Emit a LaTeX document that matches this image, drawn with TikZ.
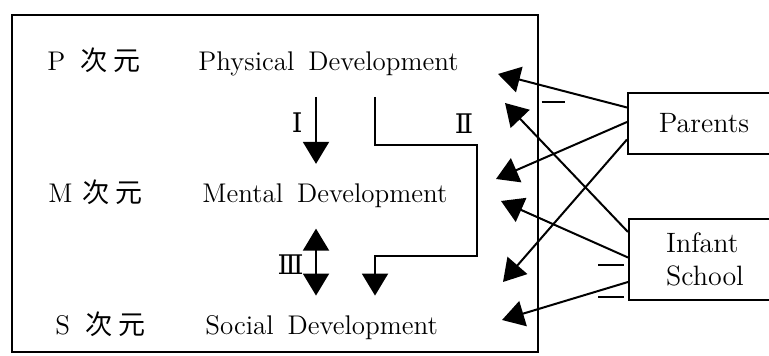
\documentclass[tikz,border=0pt]{standalone}
\usepackage{fontspec}
\newfontfamily\cjk{Noto Sans CJK JP}
\newfontfamily\romfont{DejaVu Serif}
\usetikzlibrary{arrows.meta}

\begin{document}
\begin{tikzpicture}[x=0.5pt, y=-0.5pt,
  txt/.style={anchor=base west, inner xsep=0pt, inner ysep=10pt, font=\fontsize{13.5}{15}\selectfont},
  dim/.style={anchor=base west, inner sep=0pt, font=\fontsize{13.5}{15}\selectfont},
  num/.style={inner sep=0pt, font=\fontsize{13.5}{15}\selectfont},
  neg/.style={inner sep=0pt},
  arr/.style={line width=1pt, -{Triangle[length=11pt, width=13pt]}},
  dbl/.style={line width=1pt, {Triangle[length=11pt, width=13pt]}-{Triangle[length=11pt, width=13pt]}},
  src/.style={draw, line width=1pt, minimum width=76pt, align=left, font=\fontsize{14}{16.5}\selectfont}]
  \useasboundingbox (0,0) rectangle (769,356);

  % Frame
  \draw[line width=1.2pt] (12,15) rectangle (538,352);

  % Dimension labels
  \node[dim] (plet) at (47,71) {P};
  \node[dim] (pcjk) at (80,71) {\cjk 次\hspace{3pt}元};
  \node[dim] (mlet) at (48,203) {M};
  \node[dim] (mcjk) at (82,203) {\cjk 次\hspace{3pt}元};
  \node[dim] (slet) at (55,335) {S};
  \node[dim] (scjk) at (85,335) {\cjk 次\hspace{3pt}元};

  % Development levels
  \node[txt] (phys) at (198,71) {Physical\hspace{7pt}Development};
  \node[txt] (ment) at (202,203) {Mental\hspace{7pt}Development};
  \node[txt] (soc) at (205,335) {Social\hspace{7pt}Development};

  % Inner arrows I, II, III
  \draw[arr] (316,0 |- phys.south) -- (316,0 |- ment.north);
  \node[num, anchor=east] (lab1) at (303,123) {\romfont Ⅰ};
  \draw[arr] (375,0 |- phys.south) |- (477,145) |- (375,256) -- (375,0 |- soc.north);
  \node[num] (lab2) at (464,124) {\romfont Ⅱ};
  \draw[dbl] (316,0 |- ment.south) -- (316,0 |- soc.north);
  \node[num, anchor=east] (lab3) at (304,265) {\romfont Ⅲ};

  % Outside influences
  \node[src, minimum height=30.5pt] (parents) at (704,123.5) {Parents};
  \node[src, minimum height=40.5pt] (school) at (705,259.5) {Infant\\School};

  \coordinate (pe1) at (498,74);
  \coordinate (pe2) at (496,179);
  \coordinate (pe3) at (503,282);
  \coordinate (se1) at (505,103);
  \coordinate (se2) at (501,201);
  \coordinate (se3) at (502,320);
  \draw[arr] ([yshift=8pt]parents.west) -- (pe1);
  \draw[arr] ([yshift=0.75pt]parents.west) -- (pe2);
  \draw[arr] ([yshift=-8pt]parents.west) -- (pe3);
  \draw[arr] ([yshift=13.75pt]school.west) -- (se1);
  \draw[arr] ([yshift=1pt]school.west) -- (se2);
  \draw[arr] ([yshift=-11.25pt]school.west) -- (se3);

  % Negative signs
  \node[neg] (neg1) at (553,102) {\rule{11.5pt}{1.2pt}};
  \node[neg] (neg2) at (611,265) {\rule{13pt}{1.2pt}};
  \node[neg] (neg3) at (611,297) {\rule{13pt}{1.2pt}};
\end{tikzpicture}
\end{document}
